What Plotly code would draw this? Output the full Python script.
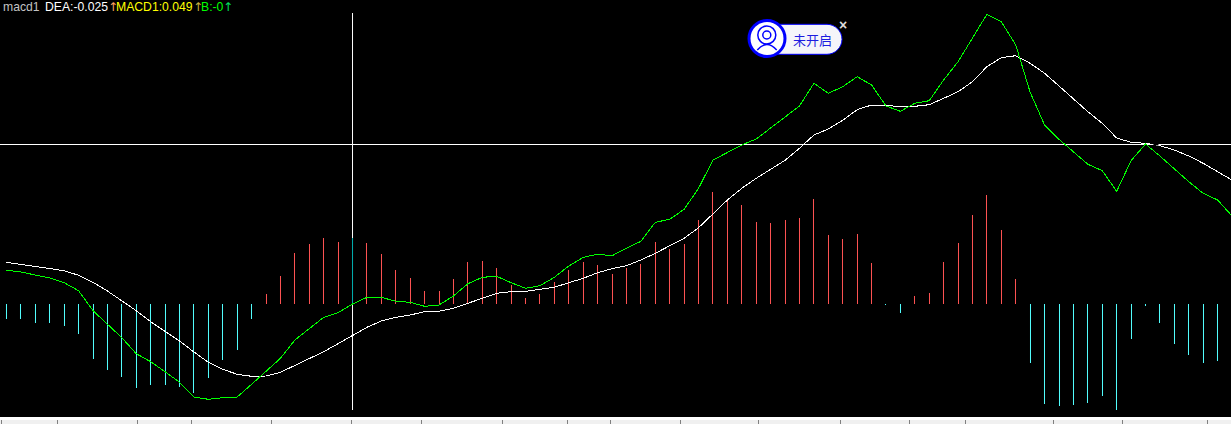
import plotly.graph_objects as go

W, H = 1231, 424
PLOT_H = 417

# Values are in chart units (1 unit = one pixel of height above the histogram zero line).
dea = [41.2, 39.2, 36.8, 34.8, 32.8, 28.2, 21.2, 12.5, 2.8, -7.2, -18.2, -27.5, -37.5, -48.5, -58.8, -65.8, -70.8, -72.8, -72.5, -68.8,
       -61.8, -55.2, -48.2, -40.2, -32.2, -23.8, -17.5, -13.8, -11.5, -8.2, -7.8, -4.8, 0.2, 5.2, 10.2, 11.8, 12.2, 14.2, 16.2, 20.8,
       25.2, 30.8, 34.8, 37.8, 43.5, 50.2, 57.5, 65.2, 75.8, 89.5, 103.5, 115.2, 125.2, 134.2, 143.2, 155.2, 168.5, 174.5, 183.2, 193.8,
       198.5, 198.5, 196.5, 197.2, 198.8, 205.2, 211.8, 221.8, 236.8, 245.8, 247.8, 240.2, 230.2, 217.5, 204.5, 191.8, 180.2, 165.5, 161.2, 160.2,
       157.8, 153.5, 147.5, 140.2, 131.8, 123.5]
macd = [33.2, 31.5, 28.5, 25.5, 20.8, 12.8, -7.2, -20.5, -34.2, -50.2, -58.2, -68.2, -78.8, -93.5, -95.8, -94.2, -93.5, -80.8, -67.5, -54.8,
        -36.5, -24.8, -13.8, -9.2, -0.5, 6.2, 6.2, 2.2, 1.2, -2.8, -1.5, 7.5, 19.8, 26.2, 27.2, 20.8, 15.2, 17.8, 26.2, 37.5,
        46.2, 49.2, 47.8, 55.2, 62.2, 81.2, 84.2, 94.2, 115.2, 143.5, 150.8, 158.5, 164.5, 175.5, 185.8, 197.5, 220.2, 210.2, 216.8, 226.8,
        218.5, 197.5, 192.2, 200.2, 202.8, 223.5, 241.8, 265.2, 289.2, 281.8, 258.5, 211.2, 178.5, 164.2, 151.8, 139.2, 132.8, 112.2, 142.8, 159.5,
        147.5, 134.2, 121.8, 110.2, 103.5, 87.5]
hist_up = {18: 9.5, 19: 27.5, 20: 50.5, 21: 59.5, 22: 65.5, 23: 61.5, 25: 60.5, 26: 49.5, 27: 33.5, 28: 25.5,
           29: 12.5, 30: 12.5, 31: 24.5, 32: 41.5, 33: 42.5, 34: 35.5, 35: 18.5, 36: 5.5, 37: 9.5, 38: 21.5, 39: 33.5,
           40: 41.5, 41: 38.5, 42: 29.5, 43: 35.5, 44: 39.5, 45: 61.5, 46: 54.5, 47: 59.5, 48: 83.5, 49: 111.5,
           50: 104.5, 51: 98.5, 52: 81.5, 53: 80.5, 54: 83.5, 55: 85.5, 56: 104.5, 57: 68.5, 58: 64.5, 59: 69.5, 60: 40.5,
           63: 7.5, 64: 10.5, 65: 41.5, 66: 60.5, 67: 88.5, 68: 108.5, 69: 73.5, 70: 24.5}
hist_down = {0: -15.2, 1: -15.2, 2: -19.2, 3: -19.2, 4: -22.2, 5: -30.2, 6: -55.2, 7: -66.2, 8: -73.2, 9: -84.2, 10: -81.2,
             11: -81.2, 12: -83.2, 13: -89.2, 14: -74.2, 15: -56.2, 16: -46.2, 17: -15.2,
             61: -1.5, 62: -9.5, 71: -59.2, 72: -100.2, 73: -102.2, 74: -101.2, 75: -99.2, 76: -92.2, 77: -106.2, 78: -35.2,
             79: -2.2, 80: -19.2, 81: -40.2, 82: -51.2, 83: -59.2, 84: -57.2}
hist_cursor = {24: 65.5}

CURSOR_X = 24
CURSOR_Y = 159
tick_positions = [-0.37, 3.52, 9.07, 12.81, 18.36, 23.91, 28.76, 34.38, 38.89, 41.87, 46.73, 52.14, 57.83, 62.61, 66.5, 72.6, 77.39, 83.29]

legend_parts = [("macd1", "#c4c4c4", 1.5, 12.2, "Liberation Sans"), ("DEA:-0.025", "#ffffff", 44, 12.2, "Liberation Sans"),
                ("↑", "#ffa060", 107, 12, "DejaVu Sans"),
                ("MACD1:0.049", "#ffff00", 114.7, 12.2, "Liberation Sans"), ("↑", "#c8b040", 191.8, 12, "DejaVu Sans"),
                ("B:-0", "#00ff00", 199.6, 12.2, "Liberation Sans"), ("↑", "#00e060", 221.8, 12, "DejaVu Sans")]

RED, CYAN, TEAL = "#ff5555", "#55ffff", "#00aaaa"
BAR_W = 0.0694

fig = go.Figure()
for d, c, n in ((hist_up, RED, "B up"), (hist_down, CYAN, "B down"), (hist_cursor, TEAL, "B at cursor")):
    fig.add_bar(x=list(d), y=list(d.values()), width=BAR_W, marker=dict(color=c, line=dict(width=0.02, color=c)), name=n)
fig.add_scatter(x=list(range(len(dea))), y=dea, mode="lines", line=dict(color="#ffffff", width=1), name="DEA")
fig.add_scatter(x=list(range(len(macd))), y=macd, mode="lines", line=dict(color="#00ff00", width=1), name="MACD1")


def px(x):
    return x / W


def py(y):
    return 1 - y / PLOT_H


def pt(x, y):
    return f"{px(x):.5f},{py(y):.5f}"


def circle(cx, cy, r, fill, line, lw):
    return dict(type="circle", xref="paper", yref="paper", x0=px(cx - r), x1=px(cx + r), y0=py(cy - r), y1=py(cy + r),
                fillcolor=fill, line=dict(color=line, width=lw), layer="above")


BLUE = "#0000ff"
x_l, x_r, y_t, y_b, k = 767, 842, 24.3, 54.3, 15
c = 0.55 * k
pill = (f"M{pt(x_l, y_t)} L{pt(x_r - k, y_t)} C{pt(x_r - k + c, y_t)} {pt(x_r, y_t + k - c)} {pt(x_r, y_t + k)} "
        f"C{pt(x_r, y_b - k + c)} {pt(x_r - k + c, y_b)} {pt(x_r - k, y_b)} L{pt(x_l, y_b)} Z")
shoulders = f"M{pt(757.3, 50)} Q{pt(766.8, 39)} {pt(776.7, 50)}"

shapes = [
    dict(type="line", xref="x", yref="y", x0=CURSOR_X, x1=CURSOR_X, y0=-106.5, y1=290.5, line=dict(color="#fff", width=1), layer="below"),
    dict(type="line", xref="paper", yref="y", x0=0, x1=1, y0=CURSOR_Y, y1=CURSOR_Y, line=dict(color="#fff", width=1), layer="below"),
    dict(type="line", xref="x", yref="y", x0=79.55, x1=79.9, y0=CURSOR_Y, y1=CURSOR_Y, line=dict(color="#000", width=2), layer="above"),
    dict(type="rect", xref="paper", yref="paper", x0=0, x1=1, y0=py(420), y1=py(417), fillcolor="#ffffff", line=dict(width=0), layer="above"),
    dict(type="path", xref="paper", yref="paper", path=pill, fillcolor="#f5f5fa", line=dict(color=BLUE, width=1), layer="above"),
    circle(767, 38.5, 18, "#ffffff", BLUE, 3),
    circle(766.8, 35, 9, "rgba(0,0,0,0)", BLUE, 1.5),
    circle(766.8, 35, 4, "rgba(0,0,0,0)", BLUE, 1.5),
    dict(type="path", xref="paper", yref="paper", path=shoulders, line=dict(color=BLUE, width=1.5), layer="above"),
]

annotations = [
    dict(text=t, x=px(x), y=py(6.5), xref="paper", yref="paper", xanchor="left", yanchor="middle", showarrow=False,
         borderpad=0, font=dict(family=fam, size=sz, color=col)) for t, col, x, sz, fam in legend_parts
]
annotations += [
    dict(text="未开启", x=px(812), y=py(39.3), xref="paper", yref="paper", xanchor="center", yanchor="middle", showarrow=False,
         font=dict(family="Noto Sans CJK SC", size=13, color="#1c1ce0")),
    dict(text="<b>×</b>", x=px(843), y=py(25), xref="paper", yref="paper", xanchor="center", yanchor="middle", showarrow=False,
         font=dict(family="Liberation Sans", size=14, color="#dcdcdc")),
]

fig.update_layout(
    width=W, height=H, margin=dict(l=0, r=0, t=0, b=7), paper_bgcolor="#f0f0f0", plot_bgcolor="#000000",
    showlegend=False, barmode="overlay", bargap=0, shapes=shapes, annotations=annotations,
    xaxis=dict(range=[-0.451, 84.93], showgrid=False, zeroline=False, tickmode="array", tickvals=tick_positions,
               ticks="outside", ticklen=7, tickwidth=1, tickcolor="#808080", showticklabels=False, showline=False),
    yaxis=dict(range=[-113.5, 303.5], showgrid=False, zeroline=False, showticklabels=False, ticks=""),
)
fig.write_html("out.html", config=dict(displayModeBar=False),
               post_script="document.body.style.margin='0';document.querySelectorAll('.js-line').forEach(function(e){e.style.shapeRendering='crispEdges';});")
